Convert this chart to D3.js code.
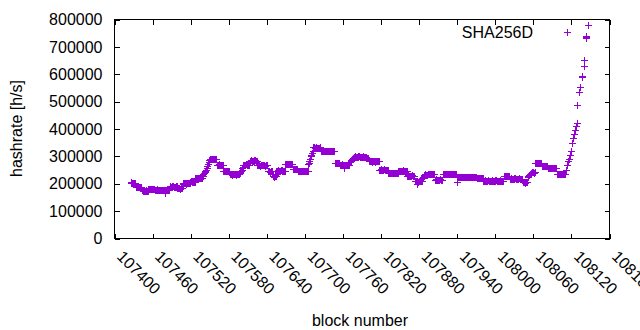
<!DOCTYPE html>
<html>
<head>
<meta charset="utf-8">
<script src="https://cdn.jsdelivr.net/npm/d3@7"></script>
<style>
  body { margin: 0; background: #fff; }
  svg { display: block; font-family: "Liberation Sans", Arial, sans-serif; }
</style>
</head>
<body>
<svg id="chart"></svg>
<script>
// hashrate estimates in kH/s, one value per block starting at firstBlock
const firstBlock = 107426;
const hashK = [
  203, 202, 201, 202, 202, 200, 199, 201,
  188, 187, 186, 186, 187, 186, 185, 186, 186, 187,
  174, 173, 173, 172, 172, 173, 174, 173, 173, 172,
  179, 180, 180, 179, 179, 178, 178, 180, 180, 179,
  177, 177, 176, 176, 178, 177, 177, 176, 176, 177, 177, 176,
  176, 175, 175, 174, 166, 175, 176, 177, 177, 176, 175, 176,
  189, 188, 188, 189, 190, 189, 188, 188, 187, 188, 189, 189,
  181, 181, 182, 181, 180, 181, 183, 182,
  199, 200, 200, 200, 201, 200, 199, 200, 200, 201, 201, 200,
  206, 207, 207, 206, 205, 206, 206, 206,
  218, 219, 219, 219, 220, 219, 218, 219, 219, 220, 220, 219,
  228, 232, 236, 240, 245, 250, 256, 262,
  270, 278, 284, 290,
  288, 288, 289, 288, 287, 288, 288, 289, 289, 288,
  268, 268, 267, 268, 269, 268, 268, 267, 267, 268,
  246, 246, 245, 245, 244, 245, 246, 245, 245, 245,
  232, 232, 233, 232, 231, 232, 232, 233, 233, 232, 231, 232, 232, 232, 233, 232,
  236, 240, 245, 250, 254, 258,
  268, 268, 267, 268, 269, 268, 268, 267, 267, 268,
  283, 283, 284, 283, 282, 283, 283, 284, 284, 283, 282, 283,
  265, 265, 266, 265, 264, 265, 265, 266, 266, 265, 265, 265, 264, 265, 265, 265,
  243, 243, 244, 243, 242, 243, 243, 243,
  228, 228, 222, 228, 229, 228,
  246, 246, 247, 246, 245, 246, 246, 247, 247, 246, 245, 246, 246, 246,
  270, 270, 271, 270, 269, 270, 270, 271, 271, 270, 270, 270,
  252, 252, 253, 252, 251, 252, 252, 252,
  245, 245, 244, 245, 246, 245, 245, 244, 244, 245, 246, 245, 245, 245, 244, 245,
  270, 275, 282, 290, 298, 305, 312, 318,
  331, 331, 330, 330, 332, 331, 330, 330, 329, 330, 331, 331,
  319, 318, 318, 319, 317, 318, 318, 319, 319, 318, 317, 318, 318, 318, 319, 318, 318, 317, 318, 318, 318, 319,
  274, 274, 275, 274, 273, 274, 274, 274,
  268, 268, 267, 268, 269, 268, 256, 268, 268, 267, 267, 268, 269, 268, 268, 268,
  276, 280, 284, 288, 291, 294,
  297, 297, 298, 297, 296, 297, 297, 298, 298, 297, 296, 297, 297, 297, 298, 297, 297, 296, 297, 297,
  292, 292, 291, 291,
  280, 280, 281, 280, 279, 280, 280, 281, 281, 280, 279, 280, 280, 280, 280, 280,
  250, 250, 251, 250, 249, 250, 250, 251, 251, 250, 249, 250, 250, 250,
  237, 237, 238, 237, 236, 237, 237, 238, 238, 237, 236, 237, 237, 237, 238, 237,
  245, 245, 246, 245, 244, 245, 245, 250, 245, 245, 244, 245, 245, 245,
  228, 228, 229, 228, 227, 228, 228, 229, 229, 228, 227, 228,
  210, 210, 208, 208, 198, 206, 207, 208, 209, 208, 208, 209,
  218, 222, 226, 230, 232, 231, 229, 230,
  234, 234, 235, 234, 233, 234, 234, 235, 235, 234, 234, 234,
  213, 213, 214, 213, 212, 213, 213, 214, 214, 213, 213, 213,
  234, 234, 233, 234, 235, 234, 234, 233, 233, 234, 235, 234, 234, 234, 233, 234, 235, 234, 234, 233, 233, 234,
  203, 223, 223, 224, 223, 222, 223, 223, 224, 224, 223, 222, 223, 223, 223, 224,
  223, 222, 223, 223, 224, 224, 223, 222, 223, 223, 223, 224, 223, 222, 223, 223,
  219, 219, 218, 219, 220, 219, 219, 218, 218, 219,
  210, 210, 211, 210, 209, 210, 210, 211, 211, 210, 209, 210, 210, 210, 211, 210,
  209, 210, 210, 211, 211, 210, 209, 210, 210, 210, 211, 210, 209, 210, 210, 210,
  226, 226, 227, 226, 225, 226, 226, 227, 227, 226,
  217, 217, 218, 217, 216, 217, 217, 218, 218, 217, 216, 217, 217, 217, 218, 217, 216, 217, 217, 217,
  204, 204, 205, 204, 200, 204, 204, 204,
  222, 226, 229, 232, 234, 236,
  240, 240, 241, 240, 239, 240,
  274, 274, 275, 274, 273, 274, 274, 275, 275, 274,
  263, 263, 264, 263, 262, 263, 263, 264, 264, 263,
  255, 255, 256, 255, 254, 255, 255, 256, 256, 255, 254, 255, 255, 255,
  234, 234, 235, 234, 233, 234, 234, 235, 235, 234, 233, 234, 234, 234
];
// the final climb, read point by point
const spikeBlocks = [108112, 108114, 108116, 108117, 108119, 108120, 108122, 108124, 108125,
  108127, 108128, 108130, 108130, 108132, 108134, 108137, 108138, 108141, 108141,
  108143, 108143, 108144, 108147];
const spikeK = [250, 268, 280, 287, 305, 317, 347, 366, 380,
  396, 410, 420, 487, 533, 550, 588, 592, 627, 649,
  730, 735, 738, 777];

const xTicks = [107400, 107460, 107520, 107580, 107640, 107700, 107760,
  107820, 107880, 107940, 108000, 108060, 108120, 108180];
const yTicks = [0, 100000, 200000, 300000, 400000, 500000, 600000, 700000, 800000];
const seriesName = "SHA256D";

const W = 640, H = 330;
const color = "#9400d3";
const fontSize = 16;

const svg = d3.select("#chart").attr("width", W).attr("height", H);

const x = d3.scaleLinear().domain([107400, 108180]).range([114.5, 609.5]);
const y = d3.scaleLinear().domain([0, 800000]).range([238.5, 19.5]);

// all the points
let pts = hashK.map((v, i) => [firstBlock + i, v * 1000]);
spikeBlocks.forEach((b, i) => pts.push([b, spikeK[i] * 1000]));

// 7px plus, snapped to the pixel grid so the crosses stay sharp
const plus = "M-3.5,0H3.5M0,-3.5V3.5";
const snap = v => Math.floor(v) + 0.5;

svg.append("g")
  .attr("shape-rendering", "crispEdges")
  .selectAll("path")
  .data(pts)
  .join("path")
  .attr("transform", d => `translate(${snap(x(d[0]))},${snap(y(d[1]))})`)
  .attr("d", plus)
  .attr("fill", "none")
  .attr("stroke", color)
  .attr("stroke-width", 1);

// axes, ticks point into the plot like gnuplot does
const gx = svg.append("g")
  .attr("transform", `translate(0,${y(0)})`)
  .call(d3.axisBottom(x).tickValues(xTicks).tickFormat(d3.format("d")).tickSizeInner(-5).tickSizeOuter(0));
gx.selectAll("text")
  .attr("y", 0).attr("dy", 0)
  .attr("transform", "translate(1,19) rotate(45)")
  .style("text-anchor", "start");

svg.append("g")
  .attr("transform", `translate(0,${y(800000)})`)
  .call(d3.axisTop(x).tickValues(xTicks).tickFormat("").tickSizeInner(-5).tickSizeOuter(0));

svg.append("g")
  .attr("transform", `translate(${x(107400)},0)`)
  .call(d3.axisLeft(y).tickValues(yTicks).tickFormat(d3.format("d")).tickSizeInner(-5).tickSizeOuter(0).tickPadding(12));

svg.append("g")
  .attr("transform", `translate(${x(108180)},0)`)
  .call(d3.axisRight(y).tickValues(yTicks).tickFormat("").tickSizeInner(-5).tickSizeOuter(0));

svg.selectAll(".domain").remove();
svg.selectAll(".tick line").attr("stroke", "#000").attr("shape-rendering", "crispEdges");
svg.selectAll(".tick text")
  .attr("fill", "#000")
  .style("font-size", fontSize + "px")
  .style("font-family", '"Liberation Sans", Arial, sans-serif');

// border box
svg.append("rect")
  .attr("x", x(107400)).attr("y", y(800000))
  .attr("width", x(108180) - x(107400))
  .attr("height", y(0) - y(800000))
  .attr("fill", "none")
  .attr("stroke", "#000")
  .attr("shape-rendering", "crispEdges");

// titles
svg.append("text")
  .attr("transform", "translate(22,128.5) rotate(-90)")
  .attr("text-anchor", "middle")
  .style("font-size", fontSize + "px")
  .text("hashrate [h/s]");

svg.append("text")
  .attr("x", 360).attr("y", 326)
  .attr("text-anchor", "middle")
  .style("font-size", fontSize + "px")
  .text("block number");

// key
svg.append("text")
  .attr("x", 533).attr("y", 37.5)
  .attr("text-anchor", "end")
  .style("font-size", fontSize + "px")
  .text(seriesName);
svg.append("path")
  .attr("transform", "translate(567.5,32.5)")
  .attr("d", plus)
  .attr("fill", "none")
  .attr("stroke", color)
  .attr("shape-rendering", "crispEdges");
</script>
</body>
</html>
